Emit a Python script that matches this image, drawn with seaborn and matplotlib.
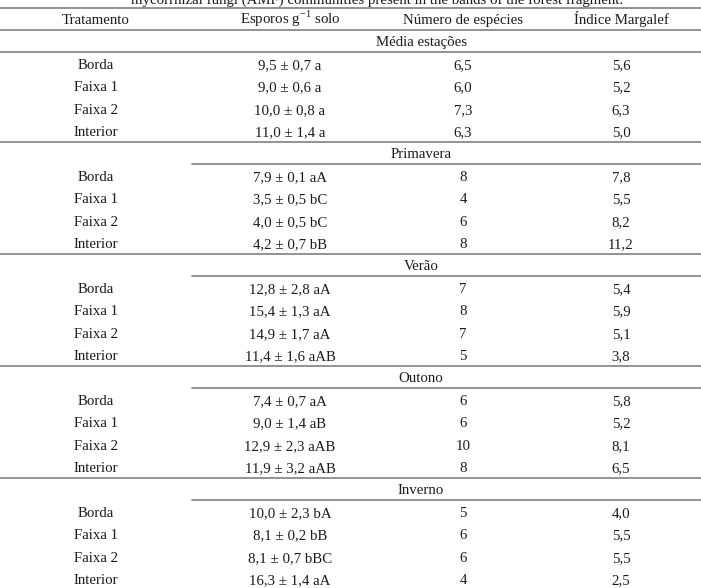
import matplotlib
matplotlib.use("Agg")
import matplotlib.pyplot as plt
import seaborn as sns

sns.set_theme(style="white")
plt.rcParams['font.family'] = ['Liberation Serif', 'DejaVu Serif']
plt.rcParams['mathtext.fontset'] = 'custom'
plt.rcParams['mathtext.rm'] = 'Liberation Serif'

caption = "mycorrhizal fungi (AMF) communities present in the bands of the forest fragment."
headers = ["Tratamento", "Esporos g$^{\\mathregular{-1}}$ solo", "Número de espécies", "Índice Margalef"]
sections = ["Média estações", "Primavera", "Verão", "Outono", "Inverno"]
treatments = ["Borda", "Faixa 1", "Faixa 2", "Interior"]

esporos = [
    ["9,5 ± 0,7 a", "9,0 ± 0,6 a", "10,0 ± 0,8 a", "11,0 ± 1,4 a"],
    ["7,9 ± 0,1 aA", "3,5 ± 0,5 bC", "4,0 ± 0,5 bC", "4,2 ± 0,7 bB"],
    ["12,8 ± 2,8 aA", "15,4 ± 1,3 aA", "14,9 ± 1,7 aA", "11,4 ± 1,6 aAB"],
    ["7,4 ± 0,7 aA", "9,0 ± 1,4 aB", "12,9 ± 2,3 aAB", "11,9 ± 3,2 aAB"],
    ["10,0 ± 2,3 bA", "8,1 ± 0,2 bB", "8,1 ± 0,7 bBC", "16,3 ± 1,4 aA"],
]
especies = [
    ["6,5", "6,0", "7,3", "6,3"],
    ["8", "4", "6", "8"],
    ["7", "8", "7", "5"],
    ["6", "6", "10", "8"],
    ["5", "6", "6", "4"],
]
margalef = [
    ["5,6", "5,2", "6,3", "5,0"],
    ["7,8", "5,5", "8,2", "11,2"],
    ["5,4", "5,9", "5,1", "3,8"],
    ["5,8", "5,2", "8,1", "6,5"],
    ["4,0", "5,5", "5,5", "2,5"],
]

W, H = 701, 588
fig = plt.figure(figsize=(W / 100, H / 100), dpi=100)
ax = fig.add_axes([0, 0, 1, 1])
ax.set_xlim(0, W)
ax.set_ylim(H, 0)
ax.axis("off")

txt = "#1c1c1c"
lc = "#8a8a8a"
lw = 1.3
fs = 10.7
col_x = [96, 290, 463, 621]
title_x = 421
sec_step = 112.0
row_step = 22.4
bl = 5.2  # offset from visual centre to baseline

# caption (clipped at top, as in the reference)
ax.text(377, 4.3, caption, ha="center", va="baseline", fontsize=fs, color=txt)
ax.axhline(7.5, color=lc, lw=lw)
for x, h in zip(col_x, headers):
    ax.text(x, 19 + bl, h, ha="center", va="baseline", fontsize=fs, color=txt)
ax.axhline(29.5, color=lc, lw=lw)

for s, name in enumerate(sections):
    ty = 41 + sec_step * s
    ax.text(title_x, ty + bl, name, ha="center", va="baseline", fontsize=fs, color=txt)
    if s == 0:
        ax.axhline(ty + 11.3, color=lc, lw=lw)
    else:
        ax.plot([192, W], [ty + 11.3, ty + 11.3], color=lc, lw=lw)
    for r, t in enumerate(treatments):
        ry = ty + 22.7 + row_step * r
        vals = [t, esporos[s][r], especies[s][r], margalef[s][r]]
        for x, v in zip(col_x, vals):
            ax.text(x, ry + bl, v, ha="center", va="baseline", fontsize=fs, color=txt)
    if s < len(sections) - 1:
        ax.axhline(ty + 101.3, color=lc, lw=lw)

fig.savefig("out.png", dpi=100)
